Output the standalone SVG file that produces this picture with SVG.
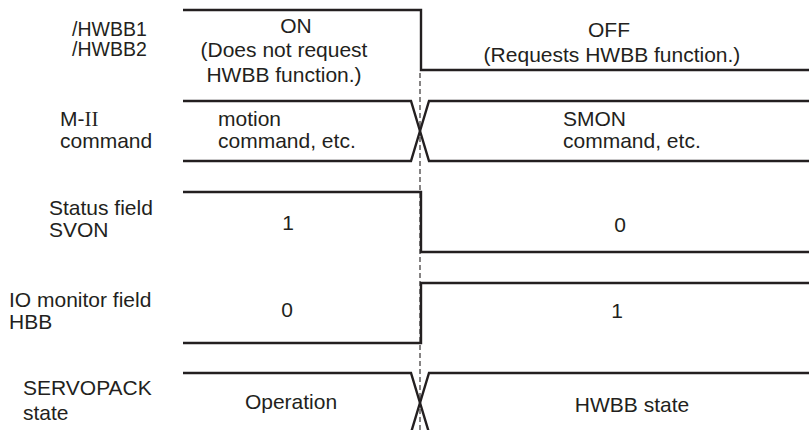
<svg xmlns="http://www.w3.org/2000/svg" width="809" height="430" viewBox="0 0 809 430">
<style>
  text { font-family: "Liberation Sans", Arial, sans-serif; font-size: 21px; fill: #231f20; }
  .m { text-anchor: middle; }
  .sm { font-size: 19.5px; }
  .sig { fill: none; stroke: #231f20; stroke-width: 2.4; stroke-linejoin: miter; }
  .dash { fill: none; stroke: #231f20; stroke-width: 1.1; stroke-dasharray: 5 3; }
</style>
<rect width="809" height="430" fill="#ffffff"/>

<g id="timing-marker">
  <line class="dash" x1="420" y1="73" x2="420" y2="430"/>
</g>

<g id="hwbb">
  <text class="sm" x="72" y="36">/HWBB1</text>
  <text class="sm" x="72" y="56">/HWBB2</text>
  <path class="sig" d="M183,10 H421 V70 H809"/>
  <text class="m" x="296" y="33">ON</text>
  <text class="m" x="284" y="57">(Does not request</text>
  <text class="m" x="284" y="82">HWBB function.)</text>
  <text class="m" x="609" y="37">OFF</text>
  <text class="m" x="612" y="62">(Requests HWBB function.)</text>
</g>

<g id="m2-command">
  <text x="60" y="126">M-<tspan font-family="'Liberation Serif', 'Times New Roman', serif">II</tspan></text>
  <text x="60" y="148">command</text>
  <path class="sig" d="M183,101 H411 L429,161 H809"/>
  <path class="sig" d="M183,161 H411 L429,101 H809"/>
  <text x="218" y="126">motion</text>
  <text x="218" y="148">command, etc.</text>
  <text x="563" y="126">SMON</text>
  <text x="563" y="148">command, etc.</text>
</g>

<g id="svon">
  <text x="49" y="215">Status field</text>
  <text x="49" y="237">SVON</text>
  <path class="sig" d="M183,192 H421 V252 H809"/>
  <text class="m" x="288" y="230">1</text>
  <text class="m" x="620" y="232">0</text>
</g>

<g id="hbb">
  <text x="9" y="307">IO monitor field</text>
  <text x="9" y="329">HBB</text>
  <path class="sig" d="M183,343 H421 V283 H809"/>
  <text class="m" x="287" y="317">0</text>
  <text class="m" x="617" y="318">1</text>
</g>

<g id="servopack-state">
  <text x="23" y="395">SERVOPACK</text>
  <text x="23" y="420">state</text>
  <path class="sig" d="M183,373 H411 L430,436"/>
  <path class="sig" d="M809,373 H429 L410,436"/>
  <text class="m" x="291" y="409">Operation</text>
  <text class="m" x="632" y="412">HWBB state</text>
</g>
</svg>
